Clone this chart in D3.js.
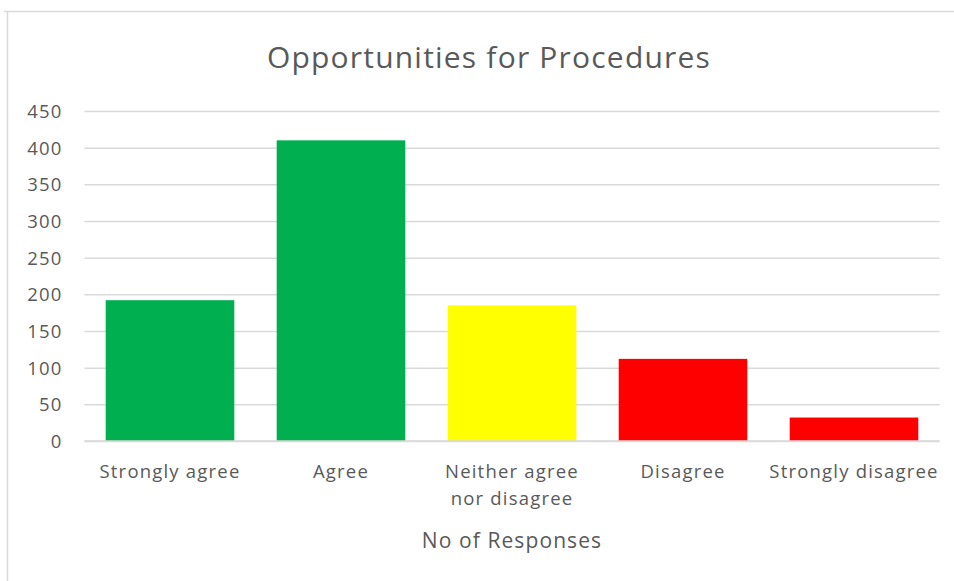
<!DOCTYPE html>
<html>
<head>
<meta charset="utf-8">
<script src="https://cdn.jsdelivr.net/npm/d3@7"></script>
<style>
  html, body { margin: 0; padding: 0; background: #fff; }
  svg { display: block; font-family: "Open Sans", "Noto Sans", sans-serif; }
</style>
</head>
<body>
<svg id="chart" width="954" height="581"></svg>
<script>
const categories = ["Strongly agree", "Agree", "Neither agree\nnor disagree", "Disagree", "Strongly disagree"];
const values = [192, 410, 185, 112, 32];
const colors = ["#00B050", "#00B050", "#FFFF00", "#FF0000", "#FF0000"];
const yTicks = [0, 50, 100, 150, 200, 250, 300, 350, 400, 450];
const title = "Opportunities for Procedures";
const xTitle = "No of Responses";

const svg = d3.select("#chart");
const W = 954, H = 581;
const margin = { left: 84.5, right: W - 939.5, top: 111, bottom: H - 441 };

// chart frame (top and left edges visible)
svg.append("line").attr("x1", 4).attr("x2", W).attr("y1", 11.5).attr("y2", 11.5)
  .attr("stroke", "#d9d9d9").attr("stroke-width", 1.5);
svg.append("line").attr("x1", 7.5).attr("x2", 7.5).attr("y1", 11).attr("y2", H)
  .attr("stroke", "#d9d9d9").attr("stroke-width", 1.5);

const x = d3.scaleBand().domain(categories).range([margin.left, W - margin.right])
  .paddingInner(0.248).paddingOuter(0.124);
const y = d3.scaleLinear().domain([0, 450]).range([H - margin.bottom, margin.top]);

// gridlines
const yAxis = d3.axisLeft(y).tickValues(yTicks).tickSize(-(x.range()[1] - x.range()[0])).tickPadding(22);
const gy = svg.append("g").attr("transform", `translate(${margin.left},0)`).call(yAxis);
gy.select(".domain").remove();
gy.selectAll(".tick line").attr("stroke", "#d9d9d9").attr("stroke-width", 1.5);
gy.selectAll(".tick text").attr("fill", "#595959").attr("font-size", 18.5)
  .attr("font-family", "'Open Sans', sans-serif").attr("letter-spacing", 1.2).attr("dy", "0.35em");

// bars
svg.append("g").selectAll("rect").data(values).join("rect")
  .attr("x", (d, i) => x(categories[i]))
  .attr("width", x.bandwidth())
  .attr("y", d => y(d))
  .attr("height", d => y(0) - y(d))
  .attr("fill", (d, i) => colors[i]);

// x axis line
svg.append("line").attr("x1", x.range()[0]).attr("x2", x.range()[1])
  .attr("y1", y(0)).attr("y2", y(0)).attr("stroke", "#d9d9d9").attr("stroke-width", 1.5);

// category labels
const gx = svg.append("g");
categories.forEach(c => {
  const lines = c.split("\n");
  const t = gx.append("text").attr("text-anchor", "middle").attr("fill", "#595959")
    .attr("font-size", 18.5).attr("letter-spacing", 1.2);
  lines.forEach((l, j) => {
    t.append("tspan").attr("x", x(c) + x.bandwidth() / 2).attr("y", 478 + j * 27).text(l);
  });
});

// title
svg.append("text").attr("x", 489).attr("y", 68).attr("text-anchor", "middle")
  .attr("fill", "#595959").attr("font-size", 30).attr("letter-spacing", 1.2).text(title);

// axis title
svg.append("text").attr("x", 512).attr("y", 548).attr("text-anchor", "middle")
  .attr("fill", "#595959").attr("font-size", 21).attr("letter-spacing", 1.1).text(xTitle);
</script>
</body>
</html>
